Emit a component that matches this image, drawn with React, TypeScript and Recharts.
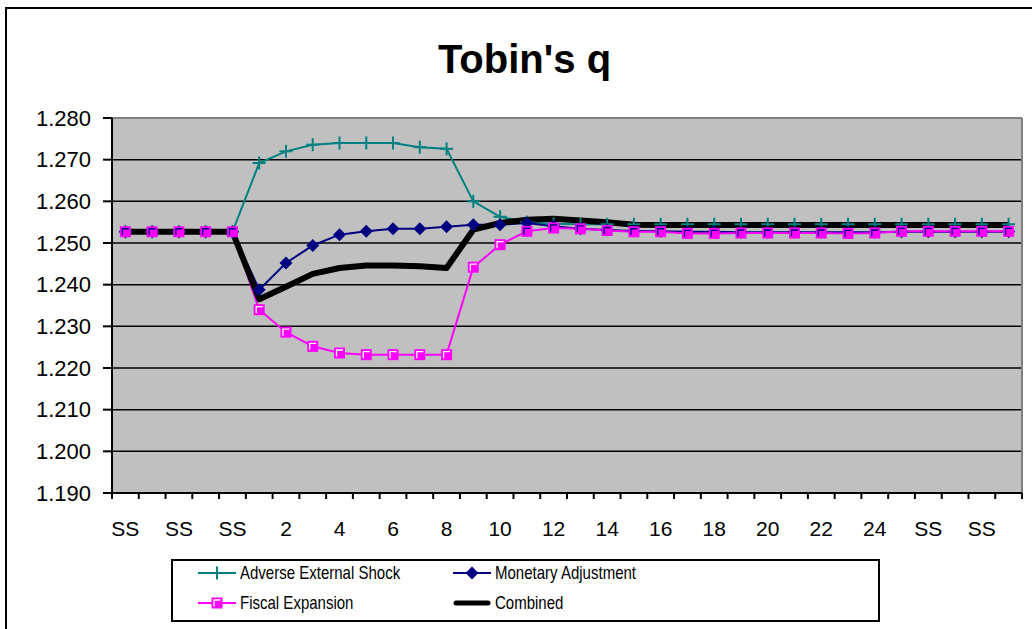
import React from 'react';
import { LineChart, Line, XAxis, YAxis, CartesianGrid, ReferenceLine } from 'recharts';

const categories = [
  'SS', 'SS', 'SS', 'SS', 'SS',
  '1', '2', '3', '4', '5', '6', '7', '8', '9', '10', '11', '12', '13', '14', '15',
  '16', '17', '18', '19', '20', '21', '22', '23', '24', '25',
  'SS', 'SS', 'SS', 'SS',
];

const adverseShock = [
  1.2527, 1.2527, 1.2527, 1.2527, 1.2527,
  1.2692, 1.2720, 1.2736, 1.2740, 1.2740, 1.2740, 1.2730, 1.2726, 1.2600, 1.2563,
  1.2550, 1.2546, 1.2545, 1.2545, 1.2545, 1.2545, 1.2545, 1.2545, 1.2545, 1.2545,
  1.2545, 1.2545, 1.2545, 1.2545, 1.2545,
  1.2545, 1.2545, 1.2545, 1.2545,
];

const monetaryAdjustment = [
  1.2527, 1.2527, 1.2527, 1.2527, 1.2527,
  1.2388, 1.2452, 1.2494, 1.2520, 1.2528, 1.2534, 1.2534, 1.2539, 1.2544, 1.2544,
  1.2548, 1.2540, 1.2534, 1.2531, 1.2529, 1.2528, 1.2527, 1.2527, 1.2526, 1.2526,
  1.2526, 1.2526, 1.2526, 1.2526, 1.2527,
  1.2527, 1.2527, 1.2527, 1.2527,
];

const fiscalExpansion = [
  1.2527, 1.2527, 1.2527, 1.2527, 1.2527,
  1.2340, 1.2286, 1.2252, 1.2236, 1.2232, 1.2232, 1.2232, 1.2232, 1.2442, 1.2496,
  1.2528, 1.2536, 1.2534, 1.2530, 1.2527, 1.2527, 1.2523, 1.2523, 1.2524, 1.2524,
  1.2524, 1.2524, 1.2523, 1.2524, 1.2528,
  1.2528, 1.2528, 1.2528, 1.2528,
];

const combined = [
  1.2527, 1.2527, 1.2527, 1.2527, 1.2527,
  1.2365, 1.2395, 1.2426, 1.2440, 1.2446, 1.2446, 1.2444, 1.2440, 1.2532, 1.2548,
  1.2556, 1.2558, 1.2554, 1.2550, 1.2544, 1.2543, 1.2543, 1.2543, 1.2543, 1.2543,
  1.2543, 1.2543, 1.2543, 1.2543, 1.2543,
  1.2543, 1.2543, 1.2543, 1.2543,
];

const yTicks = [1.19, 1.2, 1.21, 1.22, 1.23, 1.24, 1.25, 1.26, 1.27, 1.28];
const gridValues = [1.2, 1.21, 1.22, 1.23, 1.24, 1.25, 1.26, 1.27];

const seriesNames = ['Adverse External Shock', 'Monetary Adjustment', 'Fiscal Expansion', 'Combined'];

const data = categories.map((label, i) => ({
  x: i + 0.5,
  label,
  adverse: adverseShock[i],
  monetary: monetaryAdjustment[i],
  fiscal: fiscalExpansion[i],
  combined: combined[i],
}));

const boundaryTicks = categories.map((_, i) => i).concat(categories.length);
const labelTicks = categories.map((_, i) => i + 0.5).filter((_, i) => i % 2 === 0);

const TEAL = '#008080';
const NAVY = '#000080';
const PINK = '#FF00FF';
const FONT = '"Liberation Sans", Arial, sans-serif';

function PlusMark({ cx, cy }: { cx: number; cy: number }) {
  return (
    <g>
      <line x1={cx - 6.5} y1={cy} x2={cx + 6.5} y2={cy} stroke={TEAL} strokeWidth={2} />
      <line x1={cx} y1={cy - 6.5} x2={cx} y2={cy + 6.5} stroke={TEAL} strokeWidth={2} />
    </g>
  );
}

function DiamondMark({ cx, cy }: { cx: number; cy: number }) {
  return (
    <polygon
      points={`${cx},${cy - 6.5} ${cx + 6.5},${cy} ${cx},${cy + 6.5} ${cx - 6.5},${cy}`}
      fill={NAVY}
    />
  );
}

function SquareMark({ cx, cy, inner = '#fff' }: { cx: number; cy: number; inner?: string }) {
  return (
    <g>
      <rect x={cx - 5.5} y={cy - 5.5} width={11} height={11} fill={PINK} />
      <path d={`M${cx - 3} ${cy + 3.5} L${cx - 3} ${cy - 3} L${cx + 3.5} ${cy - 3}`} stroke={inner} strokeWidth={1.3} fill="none" />
    </g>
  );
}

const plusDot = (p: any) => <PlusMark key={`a-${p.index}`} cx={p.cx} cy={p.cy} />;
const diamondDot = (p: any) => <DiamondMark key={`m-${p.index}`} cx={p.cx} cy={p.cy} />;
const squareDot = (p: any) => {
  // where the diamond sits right under the square, its dark shows through the highlight
  const covered = Math.abs(p.payload.fiscal - p.payload.monetary) < 0.003;
  return <SquareMark key={`f-${p.index}`} cx={p.cx} cy={p.cy} inner={covered ? NAVY : '#fff'} />;
};

function LegendSymbol({ idx }: { idx: number }) {
  return (
    <svg width={38} height={14} style={{ display: 'block' }}>
      {idx === 3 ? (
        <line x1={3} y1={7} x2={35} y2={7} stroke="#000" strokeWidth={5} strokeLinecap="round" />
      ) : (
        <line x1={0} y1={7} x2={38} y2={7} stroke={[TEAL, NAVY, PINK][idx]} strokeWidth={2} />
      )}
      {idx === 0 && <PlusMark cx={19} cy={7} />}
      {idx === 1 && <DiamondMark cx={19} cy={7} />}
      {idx === 2 && <SquareMark cx={19} cy={7} />}
    </svg>
  );
}

function ChartLegend() {
  const cols = [25, 280];
  const rows = [12, 42];
  return (
    <div
      style={{
        position: 'absolute',
        left: 171,
        top: 559,
        width: 709,
        height: 63,
        boxSizing: 'border-box',
        border: '2px solid #000',
        background: '#fff',
      }}
    >
      {seriesNames.map((name, i) => (
        <div
          key={name}
          style={{
            position: 'absolute',
            left: cols[i % 2],
            top: rows[Math.floor(i / 2)] - 7,
            height: 14,
            display: 'flex',
            alignItems: 'center',
          }}
        >
          <LegendSymbol idx={i} />
          <span
            style={{
              marginLeft: 4,
              fontFamily: FONT,
              fontSize: 19,
              lineHeight: '14px',
              whiteSpace: 'nowrap',
              display: 'inline-block',
              transform: 'scaleX(0.79)',
              transformOrigin: 'left center',
            }}
          >
            {name}
          </span>
        </div>
      ))}
    </div>
  );
}

export default function App() {
  return (
    <div style={{ position: 'relative', width: 1032, height: 629, overflow: 'hidden', background: '#fff' }}>
      <style>{'body{margin:0}'}</style>
      <div
        style={{
          position: 'absolute',
          left: 5,
          top: 7,
          width: 1060,
          height: 660,
          border: '2px solid #000',
        }}
      />
      <div
        style={{
          position: 'absolute',
          left: 324.5,
          width: 400,
          top: 39,
          textAlign: 'center',
          fontFamily: FONT,
          fontWeight: 'bold',
          fontSize: 40,
          lineHeight: '40px',
        }}
      >
        Tobin's q
      </div>
      <div style={{ position: 'absolute', left: 0, top: 0 }}>
        <LineChart width={1032} height={629} data={data} margin={{ top: 118, right: 10, bottom: 105, left: 0 }}>
          <CartesianGrid
            xAxisId="a"
            vertical={false}
            horizontalValues={gridValues}
            fill="#C0C0C0"
            fillOpacity={1}
            stroke="#000"
            strokeWidth={1.5}
          />
          <XAxis
            xAxisId="a"
            type="number"
            dataKey="x"
            domain={[0, categories.length]}
            ticks={boundaryTicks}
            interval={0}
            height={30}
            tickSize={6}
            tickFormatter={() => ''}
            axisLine={{ stroke: '#000', strokeWidth: 2 }}
            tickLine={{ stroke: '#000', strokeWidth: 2 }}
          />
          <XAxis
            xAxisId="b"
            type="number"
            dataKey="x"
            domain={[0, categories.length]}
            ticks={labelTicks}
            interval={0}
            height={1}
            tickSize={0}
            tickMargin={-2}
            axisLine={false}
            tickLine={false}
            tickFormatter={(v: number) => categories[Math.floor(v)]}
            tick={{ fill: '#000', fontSize: 21, fontFamily: FONT }}
          />
          <YAxis
            type="number"
            domain={[1.19, 1.28]}
            ticks={yTicks}
            interval={0}
            width={112}
            tickSize={9}
            tickMargin={12}
            tickFormatter={(v: number) => v.toFixed(3)}
            axisLine={{ stroke: '#000', strokeWidth: 2 }}
            tickLine={{ stroke: '#000', strokeWidth: 2 }}
            tick={{ fill: '#000', fontSize: 22, fontFamily: FONT }}
          />
          <ReferenceLine xAxisId="a" y={1.28} stroke="#808080" strokeWidth={2} />
          <ReferenceLine xAxisId="a" x={categories.length} stroke="#808080" strokeWidth={2} />

          <Line xAxisId="a" type="linear" dataKey="adverse" stroke={TEAL} strokeWidth={2} dot={false} activeDot={false} isAnimationActive={false} />
          <Line xAxisId="a" type="linear" dataKey="monetary" stroke={NAVY} strokeWidth={2} dot={false} activeDot={false} isAnimationActive={false} />
          <Line xAxisId="a" type="linear" dataKey="fiscal" stroke={PINK} strokeWidth={2} dot={false} activeDot={false} isAnimationActive={false} />
          <Line xAxisId="a" type="linear" dataKey="combined" stroke="#000" strokeWidth={6} strokeLinejoin="round" dot={false} activeDot={false} isAnimationActive={false} />

          <Line xAxisId="a" dataKey="adverse" stroke="none" dot={plusDot} activeDot={false} legendType="none" isAnimationActive={false} />
          <Line xAxisId="a" dataKey="monetary" stroke="none" dot={diamondDot} activeDot={false} legendType="none" isAnimationActive={false} />
          <Line xAxisId="a" dataKey="fiscal" stroke="none" dot={squareDot} activeDot={false} legendType="none" isAnimationActive={false} />
        </LineChart>
      </div>
      <ChartLegend />
    </div>
  );
}
